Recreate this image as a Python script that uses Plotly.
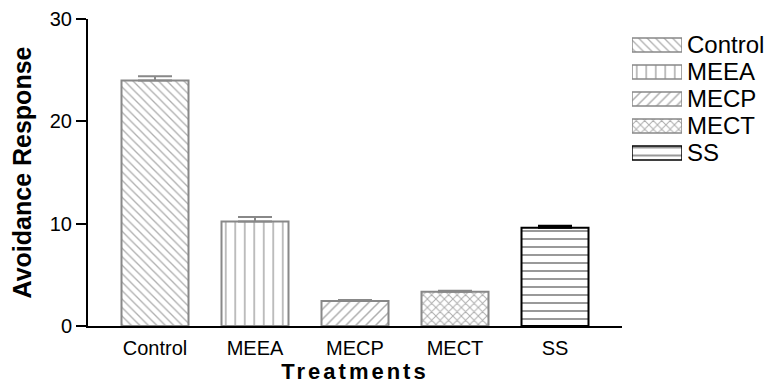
import plotly.graph_objects as go

categories = ["Control", "MEEA", "MECP", "MECT", "SS"]
values = [24.0, 10.2, 2.45, 3.35, 9.6]
errors = [0.4, 0.45, 0.1, 0.1, 0.2]
patterns = ["\\", "|", "/", "x", "-"]
pattern_sizes = [6, 9.5, 7, 6, 8]
line_colors = ["#888888", "#888888", "#888888", "#888888", "#000000"]
pattern_colors = ["#5e5e5e", "#7a7a7a", "#5e5e5e", "#5a5a5a", "#000000"]
pattern_solidity = [0.22, 0.2, 0.22, 0.3, 0.2]
y_ticks = [0, 10, 20, 30]
legend_len = [1, 1, 1, 1, 1]

FONT = "Liberation Sans, Arial, sans-serif"

fig = go.Figure()
for cat, val, err, pat, psz, sol, lc, pc in zip(categories, values, errors, patterns,
                                                pattern_sizes, pattern_solidity,
                                                line_colors, pattern_colors):
    fig.add_trace(go.Bar(
        x=[cat], y=[val], name=cat, width=0.67, showlegend=False,
        marker=dict(
            color="white",
            line=dict(color=lc, width=2),
            pattern=dict(shape=pat, fgcolor=pc, bgcolor="white", size=psz,
                         solidity=sol, fillmode="overlay"),
        ),
        error_y=dict(type="data", array=[err], arrayminus=[0], symmetric=False,
                     color=lc, thickness=2, width=17),
    ))

# legend keys (pattern-filled swatches) drawn on an inset axis
for cat, ln, pat, psz, sol, lc, pc in zip(categories, legend_len, patterns,
                                          pattern_sizes, pattern_solidity,
                                          line_colors, pattern_colors):
    fig.add_trace(go.Bar(
        x=[ln], y=[cat], orientation="h", width=0.52, showlegend=False,
        xaxis="x2", yaxis="y2", hoverinfo="skip",
        marker=dict(
            color="white",
            line=dict(color=lc, width=1.5),
            pattern=dict(shape=pat, fgcolor=pc, bgcolor="white", size=psz,
                         solidity=sol, fillmode="overlay"),
        ),
    ))

# page has an 8px body margin: lay out in figure coords = page coords - 8
OFF = 8
W, H = 775 - OFF, 392 - OFF
L, R_END, T, B_AX = 88 - OFF, 622 - OFF, 19 - OFF, 326 - OFF
LEG_X0, LEG_X1 = 632 - OFF, 682 - OFF
LEG_TOP, LEG_BOT = 31.5 - OFF, 166.5 - OFF
plot_w = W - L

fig.update_layout(
    width=W, height=H,
    barmode="overlay",
    paper_bgcolor="white", plot_bgcolor="white",
    margin=dict(l=L, r=0, t=T, b=H - B_AX),
    font=dict(family=FONT, color="black"),
    showlegend=False,
    xaxis=dict(
        domain=[0, (R_END - L) / plot_w],
        type="category", range=[-0.67, 4.67],
        showline=True, linecolor="black", linewidth=2,
        ticks="", showgrid=False, zeroline=False, automargin=False,
        tickfont=dict(size=20), ticklabelstandoff=3,
        title=dict(text='<b><span style="letter-spacing:3px">Treatments</span></b>',
                   font=dict(size=22), standoff=4),
    ),
    yaxis=dict(
        range=[0, 30], tickvals=y_ticks,
        showline=True, linecolor="black", linewidth=2,
        ticks="outside", ticklen=10, tickwidth=2, tickcolor="black",
        showgrid=False, zeroline=False, automargin=False,
        tickfont=dict(size=20),
        title=dict(text="<b>Avoidance Response</b>", font=dict(size=25), standoff=15),
    ),
    xaxis2=dict(
        domain=[(LEG_X0 - L) / plot_w, (LEG_X1 - L) / plot_w],
        anchor="y2", range=[0, 1], visible=False, fixedrange=True,
    ),
    yaxis2=dict(
        domain=[(B_AX - LEG_BOT) / (B_AX - T), (B_AX - LEG_TOP) / (B_AX - T)],
        anchor="x2", side="right", type="category",
        categoryorder="array", categoryarray=categories,
        tickmode="array", tickvals=categories, ticktext=categories,
        range=[4.5, -0.5], showline=False, ticks="", showgrid=False,
        zeroline=False, automargin=False, fixedrange=True,
        tickfont=dict(size=24), ticklabelstandoff=4,
    ),
)

fig.write_html("out.html")
